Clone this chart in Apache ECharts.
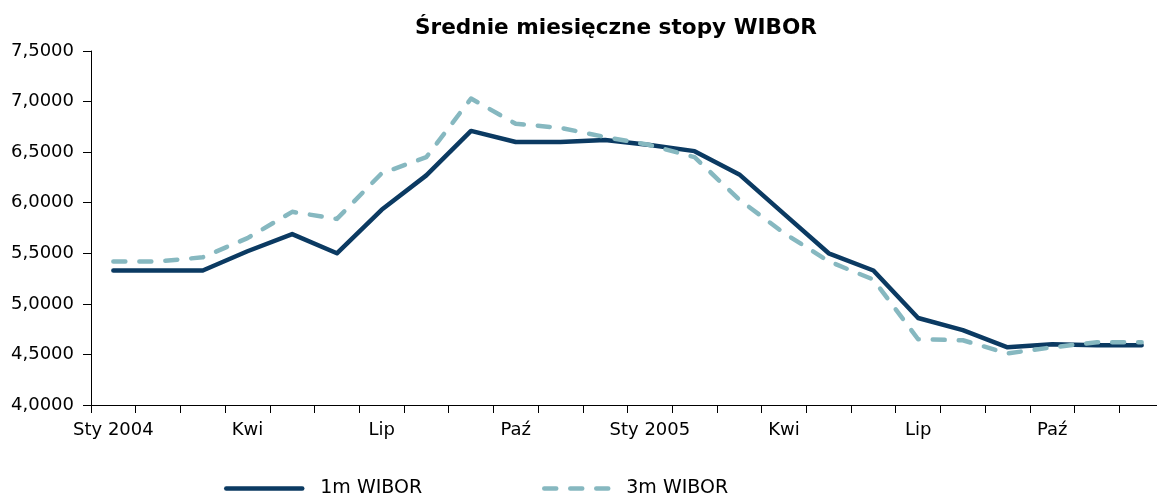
<!DOCTYPE html>
<html>
<head>
<meta charset="utf-8">
<script src="https://cdn.jsdelivr.net/npm/echarts@6/dist/echarts.min.js"></script>
<style>
html,body{margin:0;padding:0;background:#fff;overflow:hidden;width:1157px;height:497px;}
#chart{width:1164px;height:497px;}
</style>
</head>
<body>
<div id="chart"></div>
<script>
const months = ['Sty 2004','Lut','Mar','Kwi','Maj','Cze','Lip','Sie','Wrz','Paź','Lis','Gru',
                'Sty 2005','Lut','Mar','Kwi','Maj','Cze','Lip','Sie','Wrz','Paź','Lis','Gru'];
const wibor1m = [5.33,5.33,5.33,5.52,5.69,5.50,5.93,6.27,6.71,6.60,6.60,6.62,
                 6.57,6.51,6.28,5.89,5.50,5.33,4.86,4.74,4.57,4.60,4.59,4.59];
const wibor3m = [5.42,5.42,5.46,5.65,5.91,5.84,6.29,6.45,7.03,6.78,6.74,6.65,
                 6.57,6.45,6.03,5.70,5.42,5.24,4.65,4.64,4.51,4.57,4.62,4.62];
const yTicks = {min:4, max:7.5, step:0.5};
const titleText = 'Średnie miesięczne stopy WIBOR';
const seriesNames = ['1m WIBOR','3m WIBOR'];

const chart = echarts.init(document.getElementById('chart'), null, {renderer:'canvas'});
const font = 'DejaVu Sans';
const legendText = {fontFamily:font, fontSize:19, color:'#000'};
chart.setOption({
  animation:false,
  backgroundColor:'#fff',
  title:{
    text:titleText, left:611, top:12, textAlign:'center',
    textStyle:{fontFamily:font, fontWeight:'bold', fontSize:21.6, color:'#000'}
  },
  legend:[
    {top:479, left:224, padding:0, itemWidth:76, itemHeight:20,
     itemStyle:{opacity:0}, lineStyle:{width:4.5, cap:'round'},
     textStyle:Object.assign({padding:[0,0,0,13]}, legendText),
     data:[seriesNames[0]]},
    {top:479, left:542, padding:0, itemWidth:66, itemHeight:20,
     itemStyle:{opacity:0}, lineStyle:{width:4.5, cap:'round'},
     textStyle:Object.assign({padding:[0,0,0,11]}, legendText),
     data:[seriesNames[1]]}
  ],
  grid:{left:91, right:0, top:51, bottom:92},
  xAxis:{
    type:'category', data:months, boundaryGap:true,
    axisLine:{lineStyle:{color:'#000', width:1}},
    axisTick:{show:true, interval:0, length:8, lineStyle:{color:'#000'}},
    axisLabel:{interval:2, margin:16, fontFamily:font, fontSize:18, color:'#000'},
    splitLine:{show:false}
  },
  yAxis:{
    type:'value', min:yTicks.min, max:yTicks.max, interval:yTicks.step,
    axisLine:{show:true, lineStyle:{color:'#000', width:1}},
    axisTick:{show:true, length:8, lineStyle:{color:'#000'}},
    axisLabel:{margin:17, fontFamily:font, fontSize:18, color:'#000',
      formatter:v=>v.toFixed(4).replace('.',',')},
    splitLine:{show:false}
  },
  series:[
    {name:seriesNames[0], type:'line', data:wibor1m, symbol:'none', z:2,
     lineStyle:{color:'#0b3a62', width:4.5, cap:'round', join:'round'},
     itemStyle:{color:'#0b3a62'}},
    {name:seriesNames[1], type:'line', data:wibor3m, symbol:'none', z:3,
     lineStyle:{color:'#86b8c0', width:4.5, type:[12,14], cap:'round', join:'round'},
     itemStyle:{color:'#86b8c0'}}
  ]
});
</script>
</body>
</html>
